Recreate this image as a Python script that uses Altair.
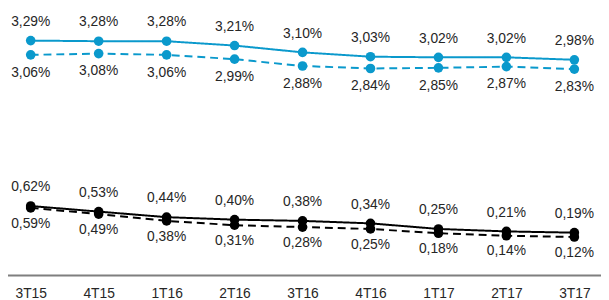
import altair as alt
import pandas as pd

categories = ["3T15", "4T15", "1T16", "2T16", "3T16", "4T16", "1T17", "2T17", "3T17"]
blue_solid = [3.29, 3.28, 3.28, 3.21, 3.10, 3.03, 3.02, 3.02, 2.98]
blue_dashed = [3.06, 3.08, 3.06, 2.99, 2.88, 2.84, 2.85, 2.87, 2.83]
black_solid = [0.62, 0.53, 0.44, 0.40, 0.38, 0.34, 0.25, 0.21, 0.19]
black_dashed = [0.59, 0.49, 0.38, 0.31, 0.28, 0.25, 0.18, 0.14, 0.12]

BLUE = "#0a99cc"
BLACK = "#000000"


def fmt(v):
    return f"{v:.2f}".replace(".", ",") + "%"


xenc = alt.X("cat:N", sort=categories,
             scale=alt.Scale(type="point", padding=0.334),
             axis=alt.Axis(title=None, labelFontSize=14, labelFont="Liberation Sans",
                           labelColor="#262626", domain=False, ticks=False,
                           labelPadding=11, labelAngle=0))
yscale = alt.Scale(domain=[-0.5, 3.784], nice=False, zero=False)


def series(vals, color, dashed, dy):
    df = pd.DataFrame({"cat": categories, "v": vals, "lab": [fmt(v) for v in vals]})
    base = alt.Chart(df).encode(x=xenc, y=alt.Y("v:Q", scale=yscale, axis=None))
    line = base.mark_line(color=color, strokeWidth=2,
                          strokeDash=[8, 5] if dashed else [1, 0])
    pts = base.mark_circle(color=color, size=95, opacity=1)
    txt = base.mark_text(dy=dy, fontSize=14, font="Liberation Sans",
                         color="#262626").encode(text="lab:N")
    return line + pts + txt


axis_line = alt.Chart(pd.DataFrame({"a": [0]})).mark_rule(
    color="#7f7f7f", strokeWidth=2).encode(
    x=alt.value(-8), x2=alt.value(601), y=alt.value(269))

chart = alt.layer(
    series(blue_dashed, BLUE, True, 18),
    series(blue_solid, BLUE, False, -19),
    series(black_dashed, BLACK, True, 16),
    series(black_solid, BLACK, False, -19),
    axis_line,
).properties(
    width=597, height=269,
    autosize=alt.AutoSizeParams(type="none"),
    padding={"left": 0, "top": 0, "right": 4, "bottom": 30},
).configure_view(stroke=None)

chart.save("out.html", embed_options={"renderer": "svg", "actions": False})
